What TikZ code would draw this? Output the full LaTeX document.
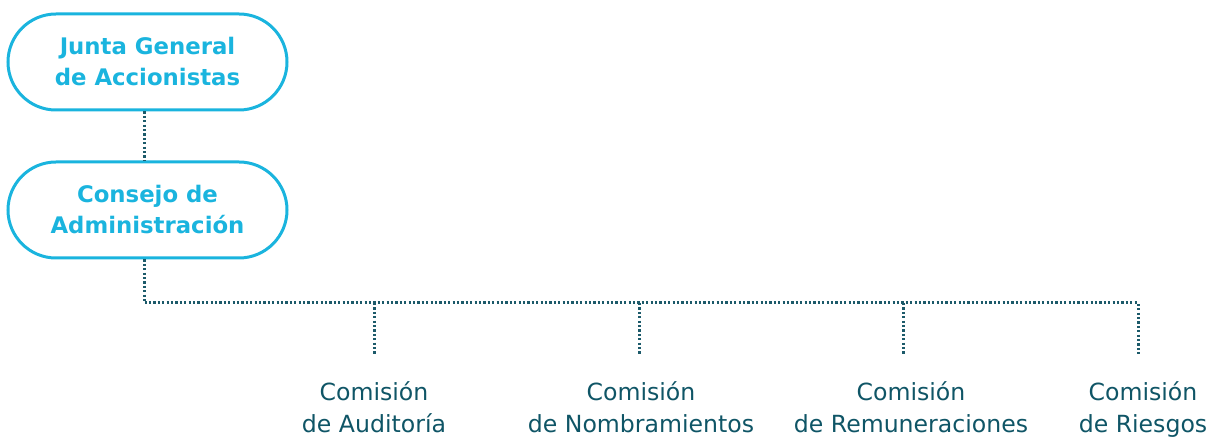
\documentclass[tikz,border=0pt]{standalone}
\usepackage{fontspec}
\setmainfont{DejaVu Sans}
\usetikzlibrary{positioning}
\definecolor{boxcyan}{HTML}{1AB4DE}
\definecolor{darkteal}{HTML}{0F5566}
\definecolor{dotteal}{HTML}{1C5A6A}
\tikzset{
  organo/.style={draw=boxcyan, line width=1.5pt, rounded corners=24pt,
    minimum width=139.5pt, minimum height=48pt, align=center,
    text=boxcyan, font=\fontsize{11.4}{15.5}\selectfont\bfseries},
  comision/.style={align=center, text=darkteal,
    font=\fontsize{11.8}{16}\selectfont},
  enlace/.style={draw=dotteal, line width=1.5pt, dash pattern=on 1.1pt off 1.1pt}
}
\begin{document}
\begin{tikzpicture}[x=0.5pt, y=-0.5pt]
\useasboundingbox (0,0) rectangle (1208,437);
\node[organo](j1) at (147.5,62){Junta General\\de Accionistas};
\node[organo](c1) at (147.5,210){Consejo de\\Administraci\'on};
\coordinate (r0) at (144,303);
\coordinate (r1) at (374,303);
\coordinate (r2) at (639,303);
\coordinate (r3) at (903,303);
\coordinate (r4) at (1138,303);
\node[comision](k1) at (374,407){Comisi\'on\\de Auditor\'ia};
\node[comision](k2) at (641,407){Comisi\'on\\de Nombramientos};
\node[comision](k3) at (911,407){Comisi\'on\\de Remuneraciones};
\node[comision](k4) at (1143,410){Comisi\'on\\de Riesgos};
% lines
\draw[enlace] (j1.south -| r0) -- (c1.north -| r0);
\draw[enlace] (c1.south -| r0) -- (r0) -- (r4) -- ++(0,52);
\draw[enlace] (r1) -- ++(0,52);
\draw[enlace] (r2) -- ++(0,52);
\draw[enlace] (r3) -- ++(0,52);
\end{tikzpicture}
\end{document}
